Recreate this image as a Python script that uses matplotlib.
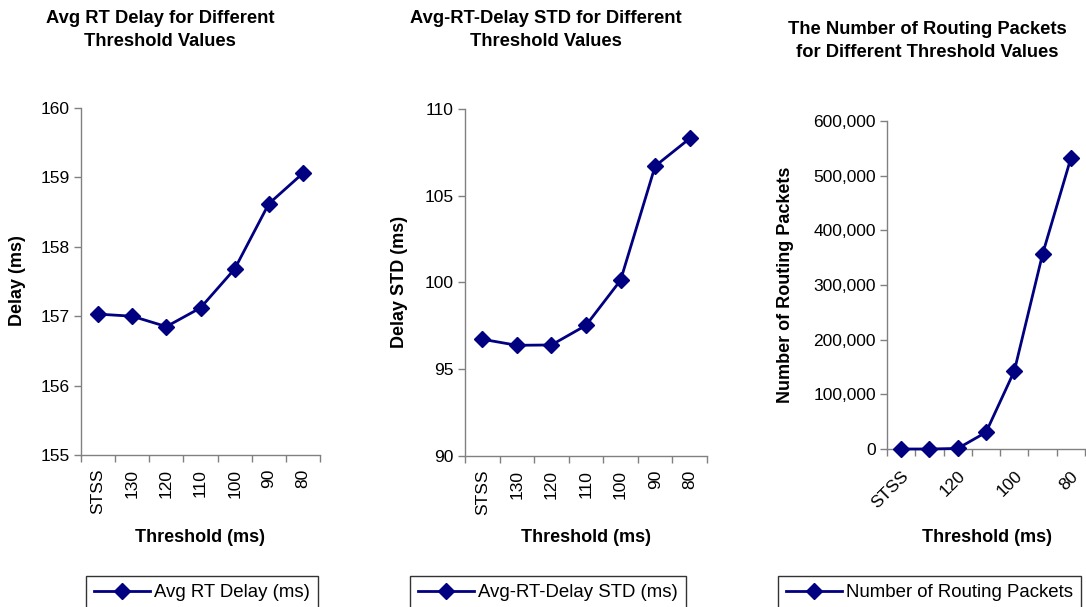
import matplotlib
matplotlib.use("Agg")
import matplotlib.pyplot as plt
from matplotlib.ticker import FuncFormatter, FixedLocator

plt.rcParams["font.family"] = ["Liberation Sans", "DejaVu Sans"]

# threshold settings, STSS is the baseline run
thresholds = ["STSS", "130", "120", "110", "100", "90", "80"]

avg_delay = [157.03, 157.0, 156.85, 157.12, 157.68, 158.62, 159.06]
delay_std = [96.73, 96.38, 96.4, 97.53, 100.13, 106.71, 108.3]
routing_packets = [0, 0, 1000, 30500, 142500, 356500, 532000]

NAVY = "#000080"
AXIS_GREY = "#808080"
W, H = 1086, 607

fig = plt.figure(figsize=(W / 100, H / 100), dpi=100)


def px_axes(left, top, right, bottom):
    return fig.add_axes([left / W, 1 - bottom / H, (right - left) / W, (bottom - top) / H])


def style_axes(ax, values, ylim, ystep, label_every=1, rotation=90):
    n = len(values)
    x = list(range(n))
    line, = ax.plot(x, values, color=NAVY, lw=2, marker="D", ms=8, mfc=NAVY, mec=NAVY,
                    clip_on=False, zorder=3)
    ax.set_xlim(-0.5, n - 0.5)
    ax.set_ylim(*ylim)
    # tick marks between categories, labels on category centres
    ax.xaxis.set_major_locator(FixedLocator([i - 0.5 for i in range(n + 1)]))
    ax.xaxis.set_major_formatter(FuncFormatter(lambda v, p: ""))
    shown = [i for i in x if i % label_every == 0]
    ax.xaxis.set_minor_locator(FixedLocator(shown))
    ax.set_xticklabels([thresholds[i] for i in shown], minor=True)
    ax.tick_params(axis="x", which="minor", length=0, pad=10, labelsize=12.5,
                   rotation=rotation)
    if rotation == 45:
        ax.tick_params(axis="x", which="minor", pad=14)
        for t in ax.get_xticklabels(minor=True):
            t.set_ha("right")
            t.set_rotation_mode("anchor")
    ax.set_yticks([ylim[0] + ystep * k for k in range(int(round((ylim[1] - ylim[0]) / ystep)) + 1)])
    ax.tick_params(axis="both", which="major", direction="out", length=5, color=AXIS_GREY,
                   width=1, labelsize=12.5, pad=3)
    for s in ("top", "right"):
        ax.spines[s].set_visible(False)
    for s in ("left", "bottom"):
        ax.spines[s].set_color(AXIS_GREY)
        ax.spines[s].set_linewidth(1)
    return line


def add_legend(line, label, left, top):
    leg = fig.legend([line], [label], loc="upper left",
                     bbox_to_anchor=(left / W, 1 - top / H), frameon=True, fancybox=False,
                     edgecolor="black", fontsize=13.4, handlelength=3.0, handletextpad=0.2,
                     borderpad=0.45, borderaxespad=0)
    leg.get_frame().set_linewidth(1)


title_kw = dict(ha="center", va="center", fontsize=13.2, fontweight="bold", linespacing=1.5)
label_kw = dict(ha="center", va="center", fontsize=13, fontweight="bold")

# left panel: average delay
ax1 = px_axes(81, 108, 320, 455)
l1 = style_axes(ax1, avg_delay, (155, 160), 1)
fig.text(160 / W, 1 - 30 / H, "Avg RT Delay for Different\nThreshold Values", **title_kw)
fig.text(17 / W, 1 - 281 / H, "Delay (ms)", rotation=90, **label_kw)
fig.text(200 / W, 1 - 537 / H, "Threshold (ms)", **label_kw)
add_legend(l1, "Avg RT Delay (ms)", 86, 576)

# middle panel: delay standard deviation
ax2 = px_axes(465, 109, 707, 456)
l2 = style_axes(ax2, delay_std, (90, 110), 5)
fig.text(546 / W, 1 - 30 / H, "Avg-RT-Delay STD for Different\nThreshold Values", **title_kw)
fig.text(400 / W, 1 - 282 / H, "Delay STD (ms)", rotation=90, **label_kw)
fig.text(586 / W, 1 - 537 / H, "Threshold (ms)", **label_kw)
add_legend(l2, "Avg-RT-Delay STD (ms)", 410, 576)

# right panel: routing packet count
ax3 = px_axes(887, 121, 1085, 449)
l3 = style_axes(ax3, routing_packets, (0, 600000), 100000, label_every=2, rotation=45)
ax3.yaxis.set_major_formatter(FuncFormatter(lambda v, p: f"{int(v):,}"))
fig.text(927 / W, 1 - 41 / H, "The Number of Routing Packets\nfor Different Threshold Values", **title_kw)
fig.text(785 / W, 1 - 285 / H, "Number of Routing Packets", rotation=90, **label_kw)
fig.text(987 / W, 1 - 537 / H, "Threshold (ms)", **label_kw)
add_legend(l3, "Number of Routing Packets", 778, 576)

fig.savefig("out.png", dpi=100)
